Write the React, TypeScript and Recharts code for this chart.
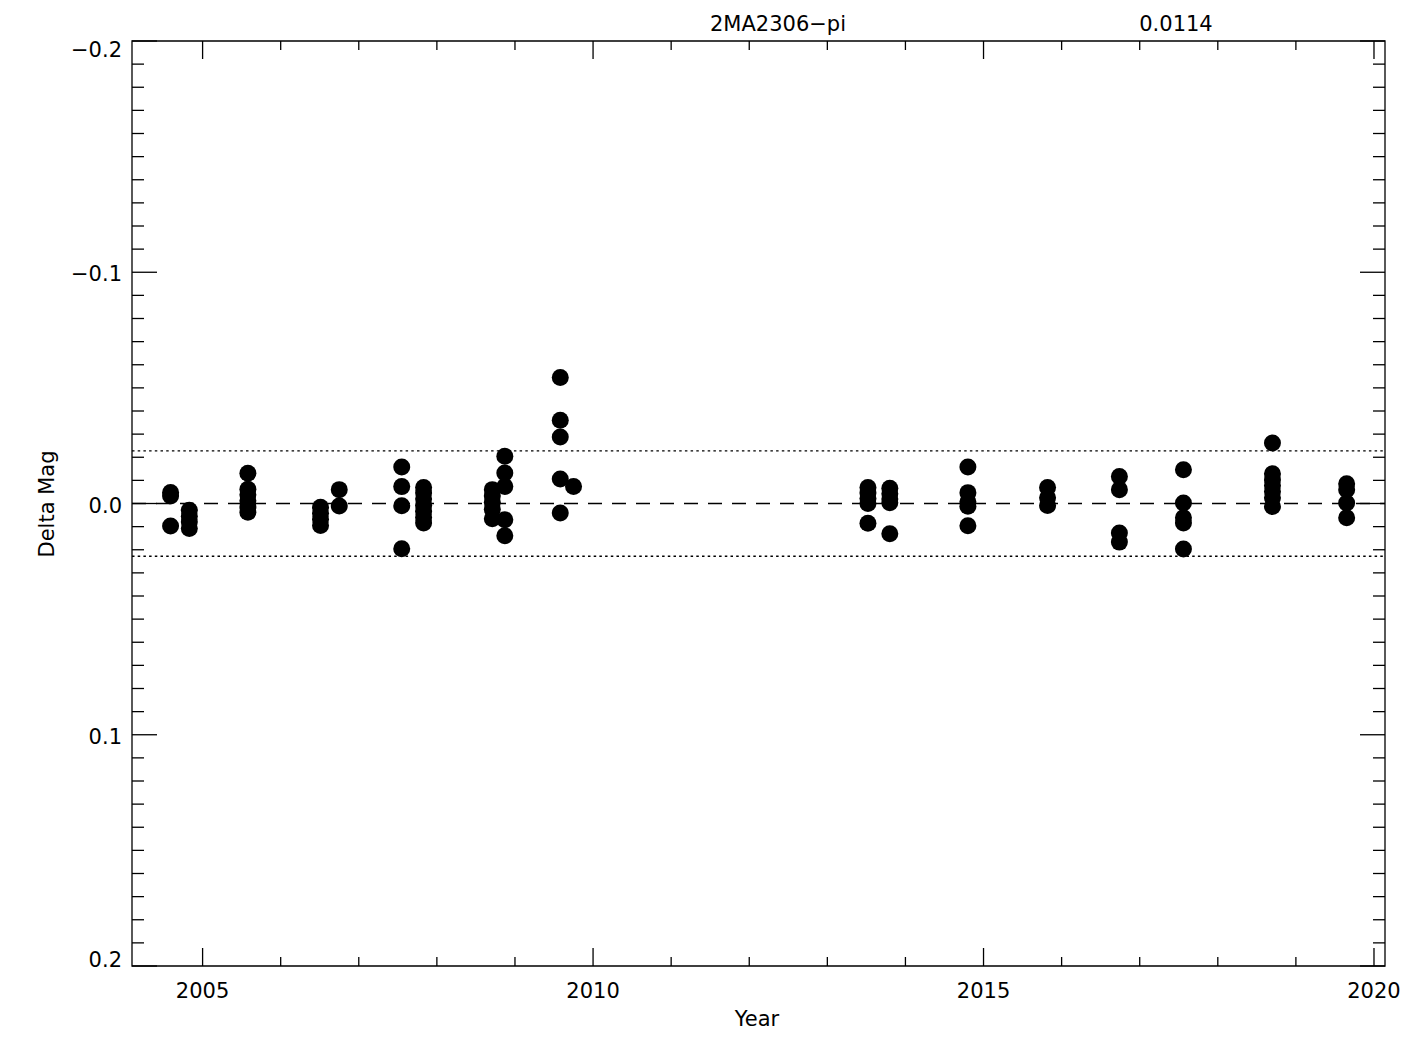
import React from 'react';
import { ScatterChart, Scatter, XAxis, YAxis, ReferenceLine, ReferenceArea } from 'recharts';

// ---- data ----
const EPOCH_YEARS: number[] = [
  2004.59, 2004.83, 2005.58, 2006.51, 2006.75, 2007.55, 2007.83, 2008.71, 2008.87, 2009.58,
  2009.75, 2013.52, 2013.80, 2014.80, 2015.82, 2016.74, 2017.56, 2018.70, 2019.65,
];
const EPOCH_MAGS: number[][] = [
  [-0.0048, -0.0032, 0.0097],
  [0.0029, 0.0055, 0.008, 0.0108],
  [-0.0131, -0.0062, -0.0038, -0.0012, 0.0015, 0.0038],
  [0.0016, 0.0042, 0.0068, 0.0095],
  [-0.006, 0.0011],
  [-0.0158, -0.0073, 0.001, 0.0196],
  [-0.0069, -0.0045, -0.002, 0.0008, 0.0035, 0.006, 0.0084],
  [-0.006, -0.0032, -0.0005, 0.0025, 0.0066],
  [-0.0204, -0.0132, -0.0074, 0.007, 0.0139],
  [-0.0545, -0.036, -0.0288, -0.0106, 0.0041],
  [-0.0074],
  [-0.0069, -0.0045, -0.0022, 0.0, 0.0085],
  [-0.0066, -0.0042, -0.002, -0.0003, 0.0131],
  [-0.0158, -0.0047, -0.0008, 0.0012, 0.0096],
  [-0.0069, -0.0025, 0.0009],
  [-0.0117, -0.006, 0.0128, 0.0167],
  [-0.0146, -0.0002, 0.0062, 0.0084, 0.0197],
  [-0.0262, -0.0129, -0.0102, -0.0078, -0.0052, -0.0025, 0.0013],
  [-0.0085, -0.006, -0.0002, 0.0062],
];
const SIGMA = 0.0114;
const TITLE = '2MA2306\u2212pi';
const SIGMA_LABEL = '0.0114';
const X_LABEL = 'Year';
const Y_LABEL = 'Delta Mag';

const X_MIN = 2004.096;
const X_MAX = 2020.141;
const Y_MIN = -0.2;
const Y_MAX = 0.2;
const X_MAJOR = [2005, 2010, 2015, 2020];
const X_TICKS = [2005, 2006, 2007, 2008, 2009, 2010, 2011, 2012, 2013, 2014, 2015, 2016, 2017, 2018, 2019, 2020];
const Y_MAJOR = [-0.2, -0.1, 0.0, 0.1, 0.2];
const Y_TICKS = Array.from({ length: 41 }, (_, i) => Math.round((-0.2 + i * 0.01) * 100) / 100);

const data = EPOCH_YEARS.flatMap((yr, i) => EPOCH_MAGS[i].map((m) => ({ x: yr, y: m })));

// ---- layout ----
const W = 1425;
const H = 1050;
const PLOT_LEFT = 132;
const PLOT_TOP = 41;
const PLOT_RIGHT = 1385;
const PLOT_BOTTOM = 966;
const AXIS_W = 1;
const AXIS_H = 1;
const M = { top: PLOT_TOP, left: PLOT_LEFT - AXIS_W, right: W - PLOT_RIGHT, bottom: H - PLOT_BOTTOM - AXIS_H };
const PLOT_W = PLOT_RIGHT - PLOT_LEFT;
const PLOT_H = PLOT_BOTTOM - PLOT_TOP;
const FONT = '"DejaVu Sans ExtraLight", "DejaVu Sans", sans-serif';
const FS = 21;
const SW = 1.3;

const isMajorY = (v: number) => Y_MAJOR.some((m) => Math.abs(m - v) < 1e-9);
const fmtY = (v: number) => (v < 0 ? '\u2212' + Math.abs(v).toFixed(1) : v.toFixed(1));

const XTick = (props: any) => {
  const { x, y, payload } = props;
  const v = payload.value;
  const major = X_MAJOR.includes(v);
  const len = major ? 18 : 9;
  const top = y - PLOT_H;
  return (
    <g>
      <line x1={x} x2={x} y1={y} y2={y - len} stroke="#000" strokeWidth={SW} />
      <line x1={x} x2={x} y1={top} y2={top + len} stroke="#000" strokeWidth={SW} />
      {major && (
        <text x={x} y={y + 32} textAnchor="middle" fontFamily={FONT} fontSize={FS} fill="#000">
          {String(v)}
        </text>
      )}
    </g>
  );
};

const YTick = (props: any) => {
  const { x, y, payload } = props;
  const v = payload.value;
  const major = isMajorY(v);
  const len = major ? 25 : 12;
  const right = x + PLOT_W;
  let dy = 9;
  if (Math.abs(v - Y_MIN) < 1e-9) dy = 16;
  if (Math.abs(v - Y_MAX) < 1e-9) dy = 0.5;
  return (
    <g>
      <line x1={x} x2={x + len} y1={y} y2={y} stroke="#000" strokeWidth={SW} />
      <line x1={right} x2={right - len} y1={y} y2={y} stroke="#000" strokeWidth={SW} />
      {major && (
        <text x={x - 10} y={y + dy} textAnchor="end" fontFamily={FONT} fontSize={FS} fill="#000">
          {fmtY(v)}
        </text>
      )}
    </g>
  );
};

const Dot = (props: any) => <circle cx={props.cx} cy={props.cy} r={8.5} fill="#000" />;

export default function App() {
  return (
    <div style={{ position: 'absolute', left: 0, top: 0, width: W, height: H, background: '#fff' }}>
      <ScatterChart width={W} height={H} margin={M}>
        <XAxis
          type="number"
          dataKey="x"
          domain={[X_MIN, X_MAX]}
          allowDataOverflow
          ticks={X_TICKS}
          interval={0}
          height={AXIS_H}
          tickSize={0}
          tickMargin={0}
          axisLine={false}
          tickLine={false}
          tick={<XTick />}
        />
        <YAxis
          type="number"
          dataKey="y"
          domain={[Y_MIN, Y_MAX]}
          allowDataOverflow
          reversed
          ticks={Y_TICKS}
          interval={0}
          width={AXIS_W}
          tickSize={0}
          tickMargin={0}
          axisLine={false}
          tickLine={false}
          tick={<YTick />}
        />
        <ReferenceArea
          x1={X_MIN}
          x2={X_MAX}
          y1={Y_MIN}
          y2={Y_MAX}
          fill="none"
          fillOpacity={0}
          stroke="#000"
          strokeWidth={SW}
          ifOverflow="visible"
        />
        <ReferenceLine y={0} stroke="#000" strokeWidth={SW} strokeDasharray="14 10" />
        <ReferenceLine y={-2 * SIGMA} stroke="#000" strokeWidth={SW} strokeDasharray="2.5 3.2" />
        <ReferenceLine y={2 * SIGMA} stroke="#000" strokeWidth={SW} strokeDasharray="2.5 3.2" />
        <Scatter data={data} shape={<Dot />} isAnimationActive={false} />
      </ScatterChart>
      <svg
        width={W}
        height={H}
        style={{ position: 'absolute', left: 0, top: 0, pointerEvents: 'none' }}
      >
        <text x={778} y={31} textAnchor="middle" fontFamily={FONT} fontSize={FS} fill="#000">
          {TITLE}
        </text>
        <text x={1176} y={31} textAnchor="middle" fontFamily={FONT} fontSize={FS} fill="#000">
          {SIGMA_LABEL}
        </text>
        <text x={757} y={1026} textAnchor="middle" fontFamily={FONT} fontSize={FS} fill="#000">
          {X_LABEL}
        </text>
        <text
          x={47}
          y={504}
          transform="rotate(-90, 47, 504)"
          textAnchor="middle"
          dominantBaseline="central"
          fontFamily={FONT}
          fontSize={FS}
          fill="#000"
        >
          {Y_LABEL}
        </text>
      </svg>
    </div>
  );
}
